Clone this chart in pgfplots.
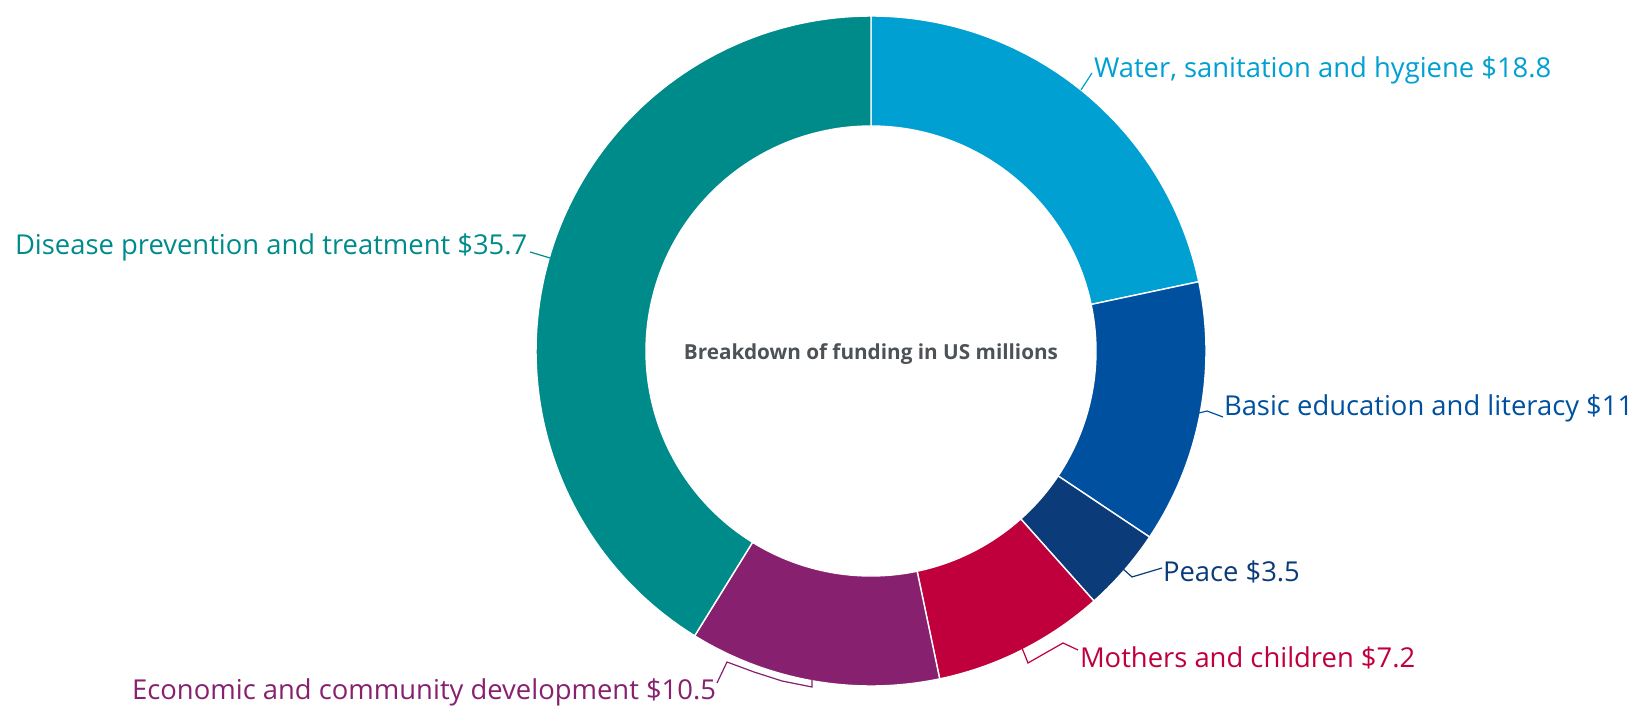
\documentclass[border=0pt]{standalone}
\usepackage{fontspec}
\setmainfont{Open Sans}
\usepackage{pgfplots}
\pgfplotsset{compat=1.18}
\definecolor{cWater}{HTML}{00A0D2}
\definecolor{cBasic}{HTML}{0050A0}
\definecolor{cPeace}{HTML}{0C3B7A}
\definecolor{cMoth}{HTML}{C0003C}
\definecolor{cEcon}{HTML}{87216F}
\definecolor{cDis}{HTML}{008B8B}
\definecolor{cCenter}{HTML}{4D5257}
\tikzset{lbl/.style={font=\fontsize{13.75}{16}\selectfont, inner sep=0pt, outer sep=0pt}}
% values (US$ millions)
\pgfmathsetmacro\tot{18.8+11+3.5+7.2+10.5+35.7}
\pgfmathsetmacro\aA{90}
\pgfmathsetmacro\aB{\aA-360*18.8/\tot}
\pgfmathsetmacro\aC{\aB-360*11/\tot}
\pgfmathsetmacro\aD{\aC-360*3.5/\tot}
\pgfmathsetmacro\aE{\aD-360*7.2/\tot}
\pgfmathsetmacro\aF{\aE-360*10.5/\tot}
\pgfmathsetmacro\aG{\aF-360*35.7/\tot}
\newcommand\slice[3]{%
\addplot[fill=#3, draw=white, line width=0.7bp, domain=0:4, samples=401, variable=\t]
 ({871+(335-110*(min(max(\t-1,0),1)-min(max(\t-3,0),1)))*cos(#1+(#2-#1)*(min(max(\t,0),1)-min(max(\t-2,0),1)))},
  {355+(335-110*(min(max(\t-1,0),1)-min(max(\t-3,0),1)))*sin(#1+(#2-#1)*(min(max(\t,0),1)-min(max(\t-2,0),1)))});}
\begin{document}
\begin{tikzpicture}
\begin{axis}[hide axis, x=0.5bp, y=0.5bp, xmin=0, xmax=1636, ymin=0, ymax=706,
  at={(0,0)}, anchor=south west, clip=false]
\slice{\aA}{\aB}{cWater}
\slice{\aB}{\aC}{cBasic}
\slice{\aC}{\aD}{cPeace}
\slice{\aD}{\aE}{cMoth}
\slice{\aE}{\aF}{cEcon}
\slice{\aF}{\aG}{cDis}
% leader lines
\addplot[cWater, line width=0.6bp] coordinates {(1081,616) (1092,633)};
\addplot[cBasic, line width=0.6bp] coordinates {(1199,293) (1207,295) (1223,289)};
\addplot[cPeace, line width=0.6bp] coordinates {(1122,138) (1132,129) (1162,138)};
\addplot[cMoth, line width=0.6bp] coordinates {(1022,58) (1028,43) (1063,63) (1078,56)};
\addplot[cEcon, line width=0.6bp] coordinates {(717,23) (727,44) (754,34) (782,25) (812,19) (812,26)};
\addplot[cDis, line width=0.6bp] coordinates {(530,454) (550,448)};
% labels
\node[lbl, text=cWater, anchor=base west] at (axis cs:1094,628) {Water, sanitation and hygiene \$18.8};
\node[lbl, text=cBasic, anchor=base west] at (axis cs:1224,290) {Basic education and literacy \$11};
\node[lbl, text=cPeace, anchor=base west] at (axis cs:1163,124) {Peace \$3.5};
\node[lbl, text=cMoth, anchor=base west] at (axis cs:1080,38) {Mothers and children \$7.2};
\node[lbl, text=cEcon, anchor=base east] at (axis cs:716,6) {Economic and community development \$10.5};
\node[lbl, text=cDis, anchor=base west] at (axis cs:15,451) {Disease prevention and treatment \$35.7};
\node[inner sep=0pt, text=cCenter, font=\fontsize{10.4}{12}\selectfont\bfseries, anchor=center] at (axis cs:871,352) {Breakdown of funding in US millions};
\coordinate (BL) at (axis cs:0,0);
\coordinate (TR) at (axis cs:1636,706);
\end{axis}
\pgfresetboundingbox
\useasboundingbox (BL) rectangle (TR);
\end{tikzpicture}
\end{document}
